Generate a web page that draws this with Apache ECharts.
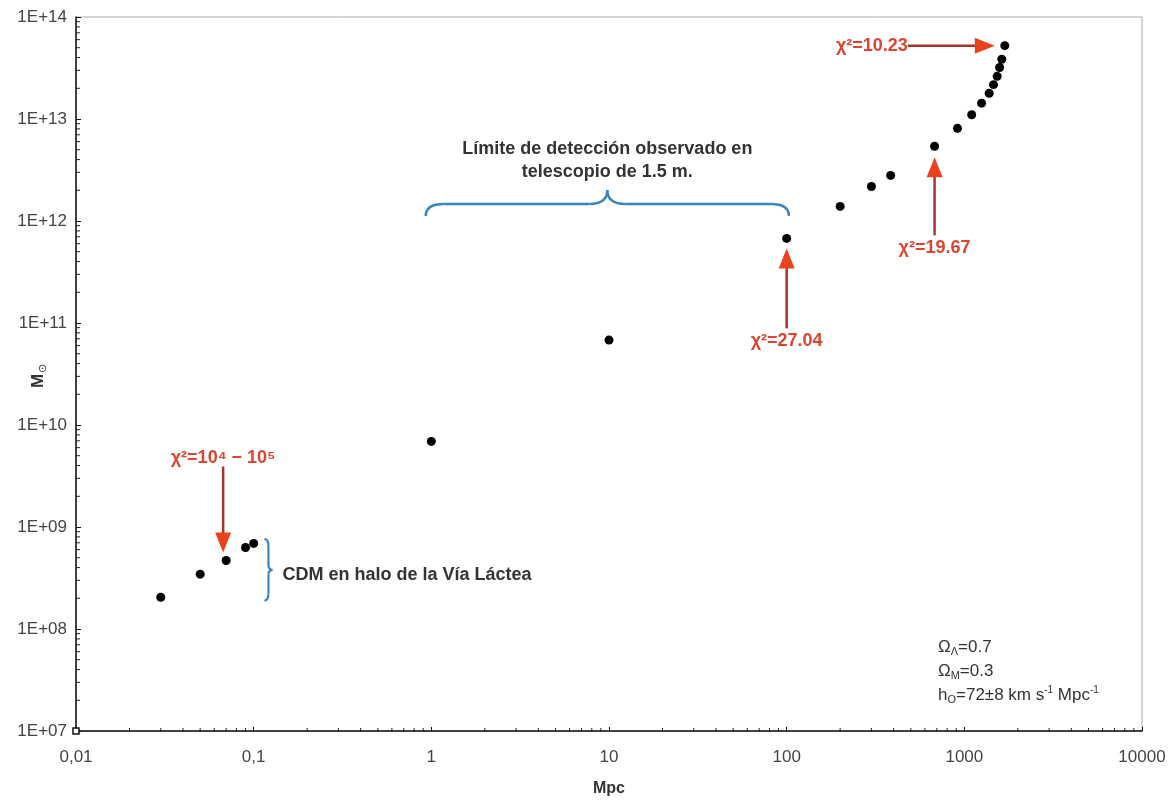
<!DOCTYPE html>
<html>
<head>
<meta charset="utf-8">
<script src="https://cdn.jsdelivr.net/npm/echarts@6/dist/echarts.min.js"></script>
<style>
  html, body { margin: 0; padding: 0; background: #fff; }
  #chart { width: 1176px; height: 801px; }
</style>
</head>
<body>
<div id="chart"></div>
<script>
// ---- data ----
const distanceMpc = [0.03, 0.05, 0.07, 0.09, 0.1, 1, 10, 100, 200, 300, 385, 680, 915, 1100, 1250, 1380, 1460, 1530, 1580, 1625, 1690];
const massSun = [2.05e8, 3.45e8, 4.7e8, 6.3e8, 6.9e8, 6.9e9, 6.8e10, 6.75e11, 1.39e12, 2.18e12, 2.8e12, 5.4e12, 8.1e12, 1.1e13, 1.43e13, 1.79e13, 2.17e13, 2.62e13, 3.2e13, 3.85e13, 5.24e13];
const xTickValues = [0.01, 0.1, 1, 10, 100, 1000, 10000];
const yTickExponents = [7, 8, 9, 10, 11, 12, 13, 14];
const arrowLabels = ['χ²=10.23', 'χ²=19.67', 'χ²=27.04', 'χ²=10⁴ − 10⁵'];
const arrowTargets = [[1690, 5.24e13], [680, 5.4e12], [100, 6.75e11], [0.07, 4.7e8]];
const detectionText = ['Límite de detección observado en', 'telescopio de 1.5 m.'];
const haloText = 'CDM en halo de la Vía Láctea';

const FONT = '"Liberation Sans", Arial, sans-serif';
const chart = echarts.init(document.getElementById('chart'));
const points = distanceMpc.map((x, i) => [x, massSun[i]]);

chart.setOption({
  animation: false,
  backgroundColor: '#fff',
  grid: { left: 76, right: 34, top: 17, bottom: 70, show: true, borderColor: '#aaaaaa', borderWidth: 1,
          containLabel: false, outerBoundsMode: 'none' },
  xAxis: {
    type: 'log', logBase: 10, min: 0.01, max: 10000,
    name: 'Mpc', nameLocation: 'middle', nameGap: 50,
    nameTextStyle: { fontFamily: FONT, fontSize: 16, fontWeight: 'bold', color: '#333' },
    axisLine: { show: true, onZero: false, lineStyle: { color: '#111', width: 1.5 } },
    axisTick: { show: true, inside: true, length: 4, lineStyle: { color: '#111' } },
    axisLabel: { fontFamily: FONT, fontSize: 17, color: '#444', margin: 18,
      formatter: v => String(Number(v.toPrecision(6))).replace('.', ',') },
    splitLine: { show: false }
  },
  yAxis: {
    type: 'log', logBase: 10, min: 1e7, max: 1e14,
    axisLine: { show: true, onZero: false, lineStyle: { color: '#111', width: 1.5 } },
    axisTick: { show: true, inside: true, length: 5, lineStyle: { color: '#111' } },
    axisLabel: { fontFamily: FONT, fontSize: 17, color: '#444', margin: 9,
      formatter: v => '1E+' + String(Math.round(Math.log10(v))).padStart(2, '0') },
    splitLine: { show: false }
  },
  series: [{
    type: 'scatter', data: points, symbol: 'circle', symbolSize: 9,
    itemStyle: { color: '#000', opacity: 1 }, z: 5
  }]
});

function px(x, y) { return chart.convertToPixel({ gridIndex: 0 }, [x, y]); }

const g = [];
// minor ticks (log 2..9)
const origin = px(0.01, 1e7);
const topLeft = px(0.01, 1e14);
for (let k = 7; k < 14; k++) {
  for (let d = 2; d <= 9; d++) {
    const p = px(0.01, d * Math.pow(10, k));
    g.push({ type: 'line', shape: { x1: origin[0], y1: p[1], x2: origin[0] + 4, y2: p[1] }, style: { stroke: '#222', lineWidth: 1 }, z: 10 });
  }
}
for (let k = -2; k < 4; k++) {
  for (let d = 2; d <= 9; d++) {
    const p = px(d * Math.pow(10, k), 1e7);
    g.push({ type: 'line', shape: { x1: p[0], y1: origin[1] - 3, x2: p[0], y2: origin[1] + 1 }, style: { stroke: '#222', lineWidth: 1 }, z: 10 });
  }
}
g.push({ type: 'rect', shape: { x: origin[0] - 3, y: origin[1] - 3, width: 6, height: 6 }, style: { fill: '#fff', stroke: '#111', lineWidth: 1.5 }, z: 11 });

// y-axis title M⊙ (rotated)
g.push({ type: 'text', x: origin[0] - 38, y: (origin[1] + topLeft[1]) / 2 + 2, rotation: Math.PI / 2, z: 15,
  style: { text: '{m|M}{s|⊙}', textAlign: 'center', textVerticalAlign: 'middle',
    rich: { m: { fontSize: 17, fontWeight: 'bold', fontFamily: FONT, fill: '#333', color: '#333' },
            s: { fontSize: 11, fontFamily: FONT, fill: '#333', color: '#333', padding: [9, 0, 0, 1] } } } });

// arrows
const SHAFT = '#a8352c', HEAD = '#e8431c', RED_TXT = '#db4530';
function arrow(tip, dir, len, label, labelPos) {
  const headLen = 20, hw = 8;
  const base = [tip[0] - dir[0] * headLen, tip[1] - dir[1] * headLen];
  const tail = [tip[0] - dir[0] * len, tip[1] - dir[1] * len];
  const perp = [-dir[1], dir[0]];
  g.push({ type: 'line', shape: { x1: tail[0], y1: tail[1], x2: base[0] + dir[0] * 2, y2: base[1] + dir[1] * 2 }, style: { stroke: SHAFT, lineWidth: 2.5 }, z: 20 });
  g.push({ type: 'polygon', shape: { points: [tip, [base[0] + perp[0] * hw, base[1] + perp[1] * hw], [base[0] - perp[0] * hw, base[1] - perp[1] * hw]] }, style: { fill: HEAD }, z: 21 });
  const t = { type: 'text', z: 22, style: { text: label, font: 'bold 18px ' + FONT, fill: RED_TXT } };
  if (labelPos === 'left') { t.x = tail[0]; t.y = tail[1]; t.style.textAlign = 'right'; t.style.textVerticalAlign = 'middle'; }
  else if (labelPos === 'below') { t.x = tail[0]; t.y = tail[1] + 4; t.style.textAlign = 'center'; t.style.textVerticalAlign = 'top'; }
  else { t.x = tail[0]; t.y = tail[1] + 1; t.style.textAlign = 'center'; t.style.textVerticalAlign = 'bottom'; }
  g.push(t);
}
let p;
p = px(...arrowTargets[0]); arrow([p[0] - 10, p[1]], [1, 0], 87, arrowLabels[0], 'left');
p = px(...arrowTargets[1]); arrow([p[0], p[1] + 11], [0, -1], 78, arrowLabels[1], 'below');
p = px(...arrowTargets[2]); arrow([p[0], p[1] + 10], [0, -1], 80, arrowLabels[2], 'below');
p = px(...arrowTargets[3]); arrow([p[0] - 3, p[1] - 8], [0, 1], 86, arrowLabels[3], 'above');

// helper for curly pieces
const BLUE = '#3a85bd';
function qcurve(a, c, b, w) {
  g.push({ type: 'bezierCurve', z: 15, shape: { x1: a[0], y1: a[1], cpx1: c[0], cpy1: c[1], x2: b[0], y2: b[1] },
    style: { stroke: BLUE, lineWidth: w, fill: null } });
}
function seg(a, b, w) {
  g.push({ type: 'line', z: 15, shape: { x1: a[0], y1: a[1], x2: b[0], y2: b[1] }, style: { stroke: BLUE, lineWidth: w } });
}

// horizontal brace over detection limit range
const bl = px(0.93, 1.12e12), br = px(103, 1.12e12);
const x0 = bl[0], x1 = br[0], y0 = bl[1], xm = (x0 + x1) / 2, ym = y0 - 12;
const W = 2.5;
qcurve([x0, y0], [x0, ym], [x0 + 18, ym], W);
seg([x0 + 18, ym], [xm - 18, ym], W);
qcurve([xm - 18, ym], [xm, ym], [xm, y0 - 26], W);
qcurve([xm, y0 - 26], [xm, ym], [xm + 18, ym], W);
seg([xm + 18, ym], [x1 - 18, ym], W);
qcurve([x1 - 18, ym], [x1, ym], [x1, y0], W);
g.push({ type: 'text', x: xm, y: y0 - 67, z: 15, style: { text: detectionText[0], font: 'bold 18px ' + FONT, fill: '#333', textAlign: 'center', textVerticalAlign: 'middle' } });
g.push({ type: 'text', x: xm, y: y0 - 44, z: 15, style: { text: detectionText[1], font: 'bold 18px ' + FONT, fill: '#333', textAlign: 'center', textVerticalAlign: 'middle' } });

// vertical brace for Milky Way halo
const vt = px(0.118, 7.6e8), vb = px(0.118, 1.9e8);
const vx = vt[0] - 2, vy0 = vt[1], vy1 = vb[1], vym = (vy0 + vy1) / 2;
const V = 2.2;
qcurve([vx, vy0], [vx + 4, vy0], [vx + 4, vy0 + 7], V);
seg([vx + 4, vy0 + 7], [vx + 4, vym - 5], V);
qcurve([vx + 4, vym - 5], [vx + 4, vym], [vx + 8, vym], V);
qcurve([vx + 8, vym], [vx + 4, vym], [vx + 4, vym + 5], V);
seg([vx + 4, vym + 5], [vx + 4, vy1 - 7], V);
qcurve([vx + 4, vy1 - 7], [vx + 4, vy1], [vx, vy1], V);
g.push({ type: 'text', x: vx + 18, y: vym + 5, z: 15, style: { text: haloText, font: 'bold 18px ' + FONT, fill: '#333', textAlign: 'left', textVerticalAlign: 'middle' } });

// cosmological parameters box
const corner = px(10000, 1e7);
const rich = {
  n: { fontSize: 17, fontFamily: FONT, fill: '#333', color: '#333' },
  sub: { fontSize: 11, fontFamily: FONT, fill: '#333', color: '#333', padding: [9, 0, 0, 0] },
  sup: { fontSize: 10, fontFamily: FONT, fill: '#333', color: '#333', padding: [0, 0, 9, 0] }
};
const paramLines = ['{n|Ω}{sub|Λ}{n|=0.7}', '{n|Ω}{sub|M}{n|=0.3}', '{n|h}{sub|O}{n|=72±8 km s}{sup|-1}{n| Mpc}{sup|-1}'];
paramLines.forEach((s, i) => {
  g.push({ type: 'text', x: corner[0] - 204, y: corner[1] - 84 + i * 24, z: 15,
    style: { text: s, rich: rich, textAlign: 'left', textVerticalAlign: 'middle' } });
});

chart.setOption({ graphic: g });
</script>
</body>
</html>
